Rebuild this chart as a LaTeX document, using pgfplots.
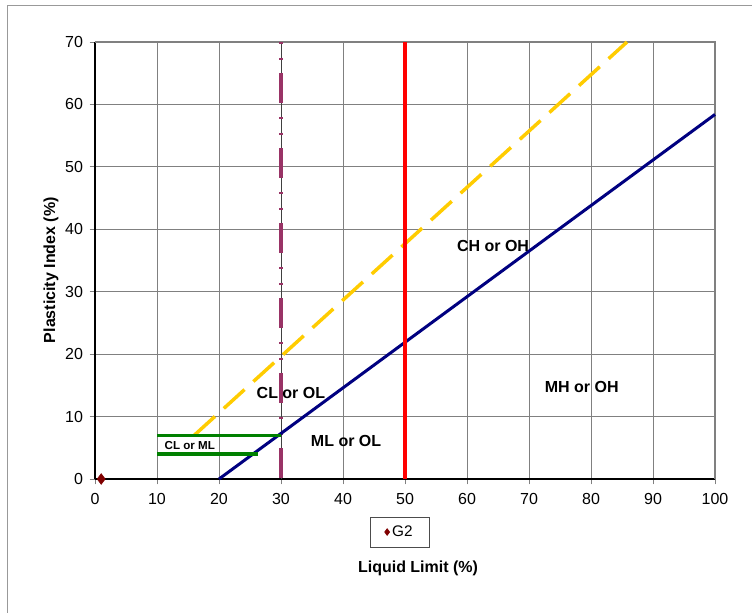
\documentclass[border=0pt]{standalone}
\usepackage{pgfplots}
\pgfplotsset{compat=1.18}
\usepackage{fontspec}
\setmainfont{Liberation Sans}
\definecolor{navyA}{RGB}{0,0,128}
\definecolor{yellowU}{RGB}{255,204,0}
\definecolor{purpleL}{RGB}{153,51,102}
\definecolor{greenL}{RGB}{0,128,0}
\definecolor{darkredP}{RGB}{128,0,0}
\definecolor{gridgray}{RGB}{128,128,128}
\begin{document}
\begin{tikzpicture}
\path[use as bounding box] (-71.25pt,-99.75pt) rectangle (492.75pt,359.25pt);
\fill[white] (-71.25pt,-99.75pt) rectangle (492.75pt,359.25pt);
\draw[black!40, line width=0.75pt] (-65.25pt,-130pt) rectangle (530pt,355.5pt);
\begin{axis}[
  scale only axis, width=465pt, height=327.75pt,
  xmin=0, xmax=100, ymin=0, ymax=70,
  xtick={0,10,...,100}, ytick={0,10,...,70},
  grid=major, major grid style={gridgray, line width=0.6pt},
  axis x line*=bottom, axis y line*=left,
  axis line style={-, black, line width=1.2pt},
  tick align=outside, major tick length=4pt,
  tick style={gridgray, line width=0.6pt},
  /pgf/number format/assume math mode=true,
  tick label style={font=\fontsize{12}{14}\selectfont},
  xticklabel style={yshift=-3pt},
  yticklabel style={xshift=-1.5pt},
  clip=false,
  xlabel={Liquid Limit (\%)},
  ylabel={Plasticity Index (\%)},
  label style={font=\bfseries\fontsize{12}{14}\selectfont},
  xlabel style={at={(axis description cs:0.521,0)}, anchor=center, yshift=-66.75pt},
  ylabel style={at={(axis description cs:-0.071,0.478)}, anchor=center},
  legend style={at={(axis description cs:0.492,0)}, anchor=center, yshift=-39.75pt,
    draw=black!70, line width=0.6pt, font=\fontsize{11.5}{13}\selectfont,
    inner xsep=10.5pt, inner ysep=4.5pt},
  legend image post style={mark size=2.4pt},
  legend cell align=left,
]
\draw[gridgray, line width=2pt] (rel axis cs:0,1) -- (rel axis cs:1,1) -- (rel axis cs:1,0);
\addplot[black!75, line width=0.6pt, forget plot] coordinates {(30,0) (30,70)};
\addplot[purpleL, line width=2.4pt, dash pattern=on 1.8pt off 9.9pt on 1.8pt off 9.9pt on 22.5pt off 10.35pt, forget plot] coordinates {(30,70) (30,0)};
\addplot[yellowU, line width=2.6pt, dash pattern=on 21pt off 9pt, forget plot] coordinates {(16,7) (85.8,70)};
\addplot[navyA, line width=2.25pt, forget plot] coordinates {(20,0) (100,58.4)};
\addplot[red, line width=2.4pt, forget plot] coordinates {(50,0) (50,70)};
\addplot[greenL, line width=2.4pt, forget plot] coordinates {(10,7) (30,7)};
\addplot[greenL, line width=2.4pt, forget plot] coordinates {(10,4) (26.3,4)};
\addplot[only marks, mark=diamond*, mark size=4pt, color=darkredP, mark options={fill=darkredP}] coordinates {(1,0)};
\addlegendentry{G2}
\node[font=\bfseries\fontsize{12}{14}\selectfont] at (axis cs:64.2,37.4) {CH or OH};
\node[font=\bfseries\fontsize{12}{14}\selectfont] at (axis cs:31.6,13.8) {CL or OL};
\node[font=\bfseries\fontsize{12}{14}\selectfont] at (axis cs:40.5,6.1) {ML or OL};
\node[font=\bfseries\fontsize{12}{14}\selectfont] at (axis cs:78.5,14.7) {MH or OH};
\node[font=\bfseries\fontsize{8.7}{10}\selectfont] at (axis cs:15.3,5.3) {CL or ML};
\end{axis}
\end{tikzpicture}
\end{document}
